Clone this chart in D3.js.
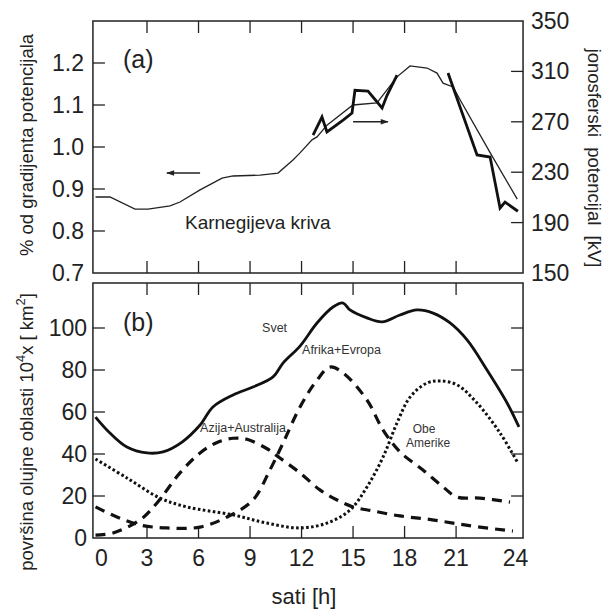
<!DOCTYPE html>
<html>
<head>
<meta charset="utf-8">
<script src="https://cdn.jsdelivr.net/npm/d3@7"></script>
<style>
body { margin: 0; background: #fff; }
svg { font-family: "Liberation Sans", Arial, Helvetica, sans-serif; }
</style>
</head>
<body>
<div id="c"></div>
<script>
"use strict";

// hours on the x axis
const hourTicks = [0, 3, 6, 9, 12, 15, 18, 21, 24]
const topLeftTicks = [0.7, 0.8, 0.9, 1.0, 1.1, 1.2]
const topRightTicks = [150, 190, 230, 270, 310, 350]
const bottomTicks = [0, 20, 40, 60, 80, 100]

// (a) Carnegie curve, fraction of mean potential gradient
const carnegieH = [0, 0.84, 2.3, 3.06, 4.34, 4.92, 6.09, 7.37, 8.01, 9.58, 10.63, 11.5, 11.91, 12.61, 12.9, 13.48,
    14.99, 16.39, 17.56, 18.32, 19.31, 19.89, 20.24, 20.83, 21.24, 22.99, 24.56]
const carnegieV = [0.881, 0.881, 0.852, 0.852, 0.86, 0.869, 0.898, 0.926, 0.931, 0.933, 0.938, 0.969, 0.986, 1.017, 1.024, 1.052,
    1.1, 1.105, 1.167, 1.193, 1.188, 1.176, 1.152, 1.143, 1.112, 0.986, 0.876]

// (a) ionospheric potential [kV], two pieces
const iono1H = [12.67, 13.19, 13.48, 14.42, 14.94, 15.11, 15.87, 16.69, 16.98, 17.56]
const iono1KV = [259.5, 273.8, 262, 271.4, 277, 295, 294.4, 281, 291, 307]
const iono2H = [20.53, 22.22, 22.98, 23.56, 23.85, 24.6]
const iono2KV = [308.7, 243.7, 242, 201.6, 206.3, 199]

// (b) thunderstorm area, 10^4 km^2
const svetH = [0, 0.84, 1.83, 3.0, 3.93, 5.04, 6.09, 6.84, 8.01, 9.17, 10.34, 10.92, 11.91, 12.9, 13.83, 14.42, 14.82,
    15.81, 16.69, 17.73, 18.72, 19.66, 20.65, 21.64, 22.8, 23.97, 24.66]
const svetV = [57.6, 50, 43.3, 40.5, 41, 45.7, 53.8, 62.4, 68.1, 71.9, 76.7, 83.3, 91.4, 102.4, 110, 111.9, 108.6,
    104.8, 102.9, 106.2, 108.6, 107.1, 102.4, 94.3, 80, 64.3, 52.9]

const afrikaH = [0, 1.25, 2.59, 4.16, 6.09, 7.66, 9.17, 10.16, 10.92, 11.91, 12.9, 13.66, 14.42, 15.81, 16.75, 17.73,
    19.07, 20.24, 21.05, 22.39, 24.14]
const afrikaV = [14.8, 10, 6.2, 4.8, 5.2, 10, 18.1, 32.4, 45.2, 62.4, 75.2, 81.4, 78.6, 65.7, 51.4, 41,
    32.4, 24.3, 19.5, 19, 17.1]

const azijaH = [0, 1.02, 2.59, 3.58, 4.92, 6.09, 7.08, 8.01, 8.82, 9.99, 10.74, 11.91, 13.07, 14.07, 15.0, 16.16,
    17.73, 19.31, 20.82, 22.39, 24.31]
const azijaV = [1.4, 2.4, 8.6, 16.7, 31, 40.5, 45.5, 47.5, 47, 42.5, 38.1, 31, 22.9, 18.1, 14.8, 12.9,
    10.5, 9, 7.1, 5.2, 3.3]

const amerikeH = [0, 1.83, 3.76, 5.33, 8.01, 9.99, 11.91, 13.48, 14.82, 15.81, 16.75, 17.56, 18.32, 19.31, 20.07,
    21.06, 22.22, 23.56, 24.6]
const amerikeV = [37.6, 28.6, 19, 14.8, 11, 7.1, 4.8, 7.1, 13.3, 24.3, 38.6, 54.8, 67.1, 73.8, 74.8,
    72.9, 64.3, 50, 35.7]

const zip = (a, b) => a.map((d, i) => [d, b[i]])

window.onload = function() {
    drawChart()
}

function drawChart() {
    const W = 612, H = 615
    const ink = '#222'
    const fontTick = 23

    const svg = d3.select('#c').append('svg')
        .attr('width', W).attr('height', H)

    const defs = svg.append('defs')
    defs.append('marker')
        .attr('id', 'arrow')
        .attr('viewBox', '0 0 10 10')
        .attr('refX', 9).attr('refY', 5)
        .attr('markerWidth', 10).attr('markerHeight', 8)
        .attr('markerUnits', 'userSpaceOnUse')
        .attr('orient', 'auto')
        .append('path')
            .attr('d', 'M0,1.5 L10,5 L0,8.5 Z')
            .attr('fill', ink)

    const xScale = d3.scaleLinear().domain([0, 24]).range([95.5, 507.6])
    const x0 = xScale(-0.15), x1 = xScale(24.9)

    const yTop = d3.scaleLinear().domain([0.7, 1.3]).range([273, 21])
    const yKV = d3.scaleLinear().domain([150, 350]).range([273, 21])
    const yBot = d3.scaleLinear().domain([0, 121.43]).range([538, 283])

    const tickLen = 12
    const innerHours = hourTicks.filter(h => h > 0 && h < 24)

    // frames and inward ticks
    function panel(y) {
        const yT = y.range()[1], yB = y.range()[0]
        const g = svg.append('g')
        g.append('rect')
            .attr('x', x0).attr('y', yT)
            .attr('width', x1 - x0).attr('height', yB - yT)
            .attr('fill', 'none')
            .attr('stroke', ink)
            .attr('stroke-width', 1.5)
        innerHours.forEach(h => {
            g.append('line')
                .attr('x1', xScale(h)).attr('x2', xScale(h))
                .attr('y1', yT).attr('y2', yT + tickLen)
                .attr('stroke', ink).attr('stroke-width', 1.3)
            g.append('line')
                .attr('x1', xScale(h)).attr('x2', xScale(h))
                .attr('y1', yB).attr('y2', yB - tickLen)
                .attr('stroke', ink).attr('stroke-width', 1.3)
        })
        return g
    }
    const gTop = panel(yTop)
    const gBot = panel(yBot)

    function yTicks(g, scale, values, side) {
        const [lo, hi] = scale.domain()
        values.filter(v => v > lo && v < hi).forEach(v => {
            const xs = side == 'left' ? [x0, x0 + tickLen] : [x1, x1 - tickLen]
            g.append('line')
                .attr('x1', xs[0]).attr('x2', xs[1])
                .attr('y1', scale(v)).attr('y2', scale(v))
                .attr('stroke', ink).attr('stroke-width', 1.3)
        })
    }
    yTicks(gTop, yTop, topLeftTicks, 'left')
    yTicks(gTop, yKV, topRightTicks, 'right')
    yTicks(gBot, yBot, bottomTicks, 'left')
    yTicks(gBot, yBot, bottomTicks, 'right')

    // tick labels
    const fmt1 = d3.format('.1f')
    topLeftTicks.forEach(v => {
        svg.append('text')
            .attr('x', 84).attr('y', yTop(v))
            .attr('text-anchor', 'end')
            .attr('dominant-baseline', 'central')
            .style('font-size', fontTick + 'px')
            .attr('fill', ink)
            .text(fmt1(v))
    })
    topRightTicks.forEach(v => {
        svg.append('text')
            .attr('x', 531).attr('y', yKV(v))
            .attr('dominant-baseline', 'central')
            .style('font-size', fontTick + 'px')
            .attr('fill', ink)
            .text(v)
    })
    bottomTicks.forEach(v => {
        svg.append('text')
            .attr('x', 87).attr('y', yBot(v))
            .attr('text-anchor', 'end')
            .attr('dominant-baseline', 'central')
            .style('font-size', fontTick + 'px')
            .attr('fill', ink)
            .text(v)
    })
    hourTicks.forEach((h, i) => {
        let nudge = 0
        if (i == 0) nudge = 6
        if (i == hourTicks.length - 1) nudge = 8
        svg.append('text')
            .attr('x', xScale(h) + nudge).attr('y', 566)
            .attr('text-anchor', 'middle')
            .style('font-size', fontTick + 'px')
            .attr('fill', ink)
            .text(h)
    })

    // axis titles
    svg.append('text')
        .attr('transform', 'translate(33,145) rotate(-90)')
        .attr('text-anchor', 'middle')
        .style('font-size', '18.5px')
        .attr('fill', ink)
        .text('% od gradijenta potencijala')

    const tb = svg.append('text')
        .attr('transform', 'translate(33,432) rotate(-90)')
        .attr('text-anchor', 'middle')
        .style('font-size', '18.5px')
        .attr('fill', ink)
    tb.append('tspan').text('površina olujne oblasti 10')
    tb.append('tspan').attr('dy', -8).style('font-size', '13px').text('4')
    tb.append('tspan').attr('dy', 8).text('x [ km')
    tb.append('tspan').attr('dy', -8).style('font-size', '13px').text('2')
    tb.append('tspan').attr('dy', 8).text(']')

    svg.append('text')
        .attr('transform', 'translate(588,158) rotate(90)')
        .attr('text-anchor', 'middle')
        .style('font-size', '18.5px')
        .style('word-spacing', '5px')
        .attr('fill', ink)
        .text('jonosferski potencijal [kV]')

    svg.append('text')
        .attr('x', 304).attr('y', 604)
        .attr('text-anchor', 'middle')
        .style('font-size', '22px')
        .attr('fill', ink)
        .text('sati [h]')

    // curves
    const lineTop = d3.line().x(d => xScale(d[0])).y(d => yTop(d[1]))
    const lineKV = d3.line().x(d => xScale(d[0])).y(d => yKV(d[1]))
    const lineBot = d3.line()
        .x(d => xScale(d[0])).y(d => yBot(d[1]))
        .curve(d3.curveCatmullRom.alpha(0.5))

    gTop.append('path')
        .datum(zip(carnegieH, carnegieV))
        .attr('fill', 'none').attr('stroke', ink)
        .attr('stroke-width', 1.3)
        .attr('d', lineTop)
    ;[zip(iono1H, iono1KV), zip(iono2H, iono2KV)].forEach(piece => {
        gTop.append('path')
            .datum(piece)
            .attr('fill', 'none').attr('stroke', '#111')
            .attr('stroke-width', 2.8)
            .attr('stroke-linejoin', 'miter')
            .attr('d', lineKV)
    })

    const series = [
        {data: zip(svetH, svetV), dash: null, w: 2.8},
        {data: zip(afrikaH, afrikaV), dash: '10,7', w: 3.2},
        {data: zip(azijaH, azijaV), dash: '10,7', w: 3.2},
        {data: zip(amerikeH, amerikeV), dash: '2.6,2.4', w: 3.0}
    ]
    series.forEach(s => {
        gBot.append('path')
            .datum(s.data)
            .attr('fill', 'none').attr('stroke', '#111')
            .attr('stroke-width', s.w)
            .attr('stroke-dasharray', s.dash)
            .attr('d', lineBot)
    })

    // arrows
    gTop.append('line')
        .attr('x1', xScale(6.09)).attr('x2', xScale(4.16))
        .attr('y1', yTop(0.938)).attr('y2', yTop(0.938))
        .attr('stroke', ink).attr('stroke-width', 1.5)
        .attr('marker-end', 'url(#arrow)')
    gTop.append('line')
        .attr('x1', xScale(15.0)).attr('x2', xScale(17.03))
        .attr('y1', yKV(270)).attr('y2', yKV(270))
        .attr('stroke', ink).attr('stroke-width', 1.5)
        .attr('marker-end', 'url(#arrow)')

    // annotations
    svg.append('text')
        .attr('x', xScale(1.6)).attr('y', yTop(1.188))
        .style('font-size', '25px').attr('fill', ink)
        .text('(a)')
    svg.append('text')
        .attr('x', xScale(5.21)).attr('y', yTop(0.805))
        .style('font-size', '19px').attr('fill', ink)
        .text('Karnegijeva kriva')
    svg.append('text')
        .attr('x', xScale(1.6)).attr('y', yBot(98.6))
        .style('font-size', '25px').attr('fill', ink)
        .text('(b)')

    const small = [
        {t: 'Svet', h: 9.7, v: 98.1, a: 'start', s: 12.5},
        {t: 'Afrika+Evropa', h: 12.03, v: 87.6, a: 'start', s: 12.5},
        {t: 'Azija+Australija', h: 6.09, v: 50.5, a: 'start', s: 12.5},
        {t: 'Obe', h: 19.13, v: 49.9, a: 'middle', s: 12},
        {t: 'Amerike', h: 19.37, v: 43.2, a: 'middle', s: 12}
    ]
    small.forEach(d => {
        svg.append('text')
            .attr('x', xScale(d.h)).attr('y', yBot(d.v))
            .attr('text-anchor', d.a)
            .style('font-size', d.s + 'px')
            .attr('fill', '#333')
            .text(d.t)
    })
}
</script>
</body>
</html>
